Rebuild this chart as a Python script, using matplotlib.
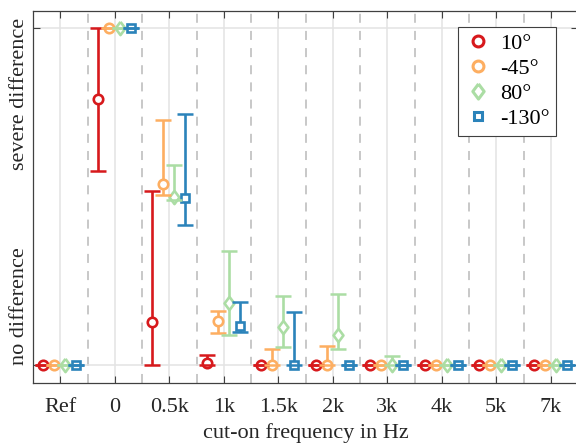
import numpy as np
import matplotlib
matplotlib.use('Agg')
import matplotlib.pyplot as plt
from matplotlib.lines import Line2D
from matplotlib.transforms import blended_transform_factory

plt.rcParams['font.family'] = ['Liberation Serif', 'DejaVu Serif']
plt.rcParams['font.size'] = 16

# Daten
categories = ['Ref', '0', '0.5k', '1k', '1.5k', '2k', '3k', '4k', '5k', '7k']
angles = ['10°', '-45°', '80°', '-130°']

med_10 = [0, 0.79, 0.128, 0.007, 0, 0, 0, 0, 0, 0]
lo_10 = [0, 0.577, 0.0, 0.0, 0, 0, 0, 0, 0, 0]
hi_10 = [0, 1.0, 0.516, 0.03, 0, 0, 0, 0, 0, 0]

med_45 = [0, 1.0, 0.537, 0.131, 0, 0, 0, 0, 0, 0]
lo_45 = [0, 1.0, 0.504, 0.094, 0, 0, 0, 0, 0, 0]
hi_45 = [0, 1.0, 0.727, 0.161, 0.047, 0.056, 0, 0, 0, 0]

med_80 = [0, 1.0, 0.498, 0.183, 0.114, 0.089, 0, 0, 0, 0]
lo_80 = [0, 1.0, 0.49, 0.089, 0.054, 0.047, 0, 0, 0, 0]
hi_80 = [0, 1.0, 0.593, 0.339, 0.205, 0.211, 0.028, 0, 0, 0]

med_130 = [0, 1.0, 0.497, 0.117, 0, 0, 0, 0, 0, 0]
lo_130 = [0, 1.0, 0.415, 0.099, 0, 0, 0, 0, 0, 0]
hi_130 = [0, 1.0, 0.744, 0.188, 0.158, 0, 0, 0, 0, 0]

series = [(med_10, lo_10, hi_10), (med_45, lo_45, hi_45),
          (med_80, lo_80, hi_80), (med_130, lo_130, hi_130)]

# Stil
colors = ['#d7191c', '#fdae61', '#abdda4', '#2b83ba']
diamond = [(0, 1), (0.75, 0), (0, -1), (-0.75, 0), (0, 1)]
markers = ['o', 'o', diamond, 's']
msizes = [6.8, 6.8, 9.5, 5.2]
offsets = [-0.31, -0.11, 0.09, 0.29]
axis_col = '#404040'

fig = plt.figure(figsize=(5.76, 4.44), dpi=100)
ax = fig.add_axes([33 / 576, 1 - 383 / 444, 545 / 576, 372 / 444])

x = np.arange(1, len(categories) + 1)

# Gitter
for xi in x:
    ax.axvline(xi, color='#e3e3e3', lw=1.1, zorder=0)
for xi in x[:-1] + 0.5:
    ax.axvline(xi, color='#c4c4c4', lw=1.3, ls=(0, (5, 4.5)), zorder=0)
for yi in [0, 1]:
    ax.axhline(yi, color='#e3e3e3', lw=1.1, zorder=0)

for i, (med, lo, hi) in enumerate(series):
    med = np.array(med)
    err = np.vstack([med - np.array(lo), np.array(hi) - med])
    data_line, caplines, barcols = ax.errorbar(
        x + offsets[i], med, yerr=err, fmt='none', ecolor=colors[i],
        elinewidth=1.9, capsize=6, capthick=1.8)
    for bc in barcols:
        bc.set_zorder(2)
    ax.plot(x + offsets[i], med, ls='none', marker=markers[i], ms=msizes[i],
            mfc='white', mec=colors[i], mew=1.9, zorder=3)
    for cl in caplines:
        cl.set_zorder(4)

ax.set_xlim(0.5, 10.5)
ax.set_ylim(-0.053, 1.05)
ax.set_xticks(x)
ax.set_xticklabels(categories)
ax.set_yticks([0, 1])
ax.set_yticklabels(['', ''])
ax.tick_params(axis='both', direction='in', length=5, width=0.8,
               color=axis_col, labelcolor='#262626', top=True, right=True)
ax.tick_params(axis='x', pad=11)
for sp in ax.spines.values():
    sp.set_color(axis_col)
    sp.set_linewidth(0.9)

ax.set_xlabel('cut-on frequency in Hz', color='#262626', labelpad=4)

trans = blended_transform_factory(ax.transAxes, ax.transData)
ax.text(-0.024, 0.0, 'no difference', rotation=90, transform=trans,
        ha='center', va='bottom', color='#262626')
ax.text(-0.024, 1.03, 'severe difference', rotation=90, transform=trans,
        ha='center', va='top', color='#262626')

handles = [Line2D([], [], ls='none', marker=markers[i], ms=msizes[i] * 1.15,
                  mfc='white', mec=colors[i], mew=2.2) for i in range(4)]
leg = ax.legend(handles, angles, loc='upper right',
                bbox_to_anchor=(0.96, 0.957), borderaxespad=0,
                fancybox=False, framealpha=1, edgecolor=axis_col,
                labelspacing=0.2, handletextpad=0.4, handlelength=1.2,
                borderpad=0.3)
leg.get_frame().set_linewidth(0.8)

fig.savefig('out.png', dpi=100)
